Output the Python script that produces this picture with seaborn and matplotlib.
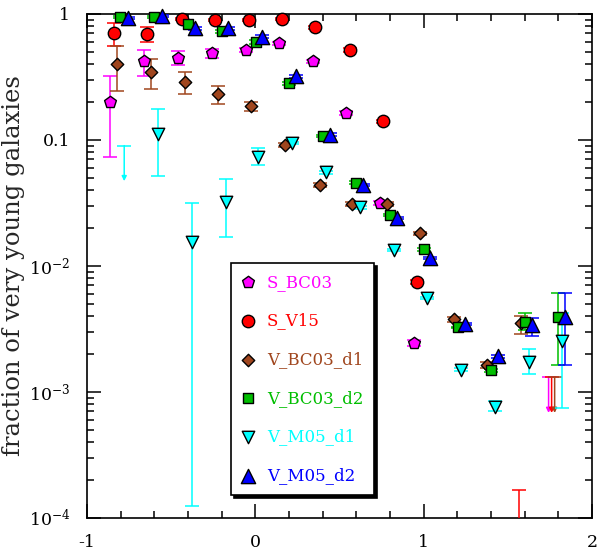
import numpy as np
import pandas as pd
import seaborn as sns
import matplotlib.pyplot as plt
from matplotlib.ticker import FixedLocator, MultipleLocator, FuncFormatter, LogLocator, NullFormatter

# series names, colours and markers (legend order = draw order)
names = ['S_BC03', 'S_V15', 'V_BC03_d1', 'V_BC03_d2', 'V_M05_d1', 'V_M05_d2']
colors = ['#ff00ff', '#ff0000', '#a0461e', '#00be00', '#00ffff', '#0000ff']
markers = ['p', 'o', 'D', 's', 'v', '^']
msizes = [80, 80, 40, 55, 80, 105]

# S_BC03
x_sbc = [-0.864, -0.66, -0.458, -0.26, -0.058, 0.14, 0.343, 0.541, 0.739, 0.941]
y_sbc = [0.198, 0.42, 0.45, 0.49, 0.52, 0.585, 0.42, 0.163, 0.0314, 0.00243]
lo_sbc = [0.073, 0.32, 0.39, 0.45, 0.50, 0.57, 0.41, 0.158, 0.0305, 0.0023]
hi_sbc = [0.32, 0.52, 0.51, 0.53, 0.54, 0.60, 0.43, 0.168, 0.0325, 0.0026]

# S_V15 (last point lies below the plotted range)
x_sv = [-0.84, -0.642, -0.438, -0.24, -0.039, 0.159, 0.357, 0.561, 0.759, 0.96, 1.564]
y_sv = [0.70, 0.69, 0.908, 0.896, 0.896, 0.908, 0.78, 0.52, 0.14, 0.00746, 5e-5]
lo_sv = [0.557, 0.60, 0.89, 0.88, 0.88, 0.89, 0.76, 0.50, 0.135, 0.0072, 3e-5]
hi_sv = [0.84, 0.78, 0.93, 0.91, 0.91, 0.93, 0.80, 0.54, 0.145, 0.0077, 1.66e-4]

# V_BC03_d1
x_vb1 = [-0.82, -0.62, -0.42, -0.22, -0.023, 0.179, 0.383, 0.577, 0.782, 0.98, 1.18, 1.376, 1.58]
y_vb1 = [0.40, 0.344, 0.289, 0.23, 0.184, 0.0912, 0.044, 0.031, 0.031, 0.0182, 0.00377, 0.00164, 0.00351]
lo_vb1 = [0.245, 0.253, 0.231, 0.193, 0.17, 0.088, 0.0425, 0.030, 0.030, 0.0177, 0.0036, 0.00155, 0.0029]
hi_vb1 = [0.557, 0.437, 0.347, 0.268, 0.20, 0.095, 0.0455, 0.032, 0.032, 0.0187, 0.0039, 0.00172, 0.0040]

# V_BC03_d2
x_vb2 = [-0.804, -0.60, -0.399, -0.197, 0.003, 0.201, 0.402, 0.6, 0.802, 1.0, 1.204, 1.402, 1.6, 1.797]
y_vb2 = [0.95, 0.95, 0.83, 0.73, 0.60, 0.282, 0.1076, 0.0458, 0.0254, 0.01356, 0.00326, 0.00148, 0.00361, 0.0039]
lo_vb2 = [0.93, 0.93, 0.81, 0.71, 0.58, 0.275, 0.105, 0.0448, 0.0248, 0.0132, 0.0032, 0.00144, 0.0031, 0.00164]
hi_vb2 = [0.97, 0.97, 0.85, 0.75, 0.62, 0.29, 0.110, 0.0468, 0.026, 0.0139, 0.0033, 0.00152, 0.0042, 0.0061]

# V_M05_d1
x_vm1 = [-0.58, -0.379, -0.177, 0.017, 0.22, 0.422, 0.624, 0.822, 1.022, 1.224, 1.421, 1.623, 1.821]
y_vm1 = [0.112, 0.0156, 0.032, 0.0737, 0.095, 0.0554, 0.0292, 0.0134, 0.0056, 0.0015, 0.000755, 0.00174, 0.00255]
lo_vm1 = [0.052, 1.25e-4, 0.0168, 0.063, 0.093, 0.054, 0.0285, 0.0131, 0.0055, 0.00146, 0.00070, 0.00139, 0.00075]
hi_vm1 = [0.176, 0.0316, 0.049, 0.086, 0.097, 0.0565, 0.030, 0.0137, 0.0057, 0.00154, 0.00084, 0.0022, 0.0042]

# V_M05_d2
x_vm2 = [-0.759, -0.557, -0.359, -0.161, 0.037, 0.24, 0.442, 0.64, 0.842, 1.04, 1.243, 1.441, 1.643, 1.841]
y_vm2 = [0.93, 0.96, 0.77, 0.77, 0.66, 0.32, 0.11, 0.044, 0.0239, 0.0115, 0.00347, 0.00191, 0.0034, 0.00396]
lo_vm2 = [0.91, 0.94, 0.75, 0.75, 0.64, 0.31, 0.107, 0.043, 0.0234, 0.0113, 0.0034, 0.00186, 0.00279, 0.00164]
hi_vm2 = [0.95, 0.98, 0.79, 0.79, 0.68, 0.33, 0.113, 0.045, 0.0244, 0.0117, 0.00355, 0.00196, 0.00385, 0.0061]

# upper limits: (series index, x, cap value, arrow end)
lim_series = [4, 0, 1, 2]
lim_x = [-0.779, 1.742, 1.760, 1.778]
lim_cap = [0.090, 1.3e-3, 1.3e-3, 1.3e-3]
lim_end = [0.047, 6.8e-4, 6.8e-4, 6.8e-4]

xs = [x_sbc, x_sv, x_vb1, x_vb2, x_vm1, x_vm2]
ys = [y_sbc, y_sv, y_vb1, y_vb2, y_vm1, y_vm2]
los = [lo_sbc, lo_sv, lo_vb1, lo_vb2, lo_vm1, lo_vm2]
his = [hi_sbc, hi_sv, hi_vb1, hi_vb2, hi_vm1, hi_vm2]

sns.set_theme(style='ticks')
plt.rcParams['font.family'] = ['DejaVu Serif']
plt.rcParams['mathtext.fontset'] = 'dejavuserif'

fig = plt.figure(figsize=(5.98, 5.55), dpi=100)
ax = fig.add_axes([0.1455, 0.067, 0.8445, 0.908])

for i, name in enumerate(names):
    x = np.array(xs[i]); y = np.array(ys[i])
    lo = np.array(los[i]); hi = np.array(his[i])
    ax.errorbar(x, y, yerr=[y - lo, hi - y], fmt='none', ecolor=colors[i],
                elinewidth=1.1, capsize=4.7, capthick=1.1, zorder=2 + i)
    df = pd.DataFrame({'x': x, 'y': y})
    df = df[df['y'] >= 1e-4]
    sns.scatterplot(data=df, x='x', y='y', marker=markers[i], color=colors[i],
                    s=msizes[i], edgecolor='black', linewidth=1.0, label=name,
                    ax=ax, zorder=10 + i, clip_on=False)

for k, i in enumerate(lim_series):
    ax.plot([lim_x[k]], [lim_cap[k]], marker='_', ms=9.4, mew=1.1, color=colors[i], zorder=3)
    ax.annotate('', xy=(lim_x[k], lim_end[k]), xytext=(lim_x[k], lim_cap[k]),
                arrowprops=dict(arrowstyle='-|>', color=colors[i], lw=1.1,
                                mutation_scale=7, shrinkA=0, shrinkB=0), zorder=3)

ax.set_yscale('log')
ax.set_xlim(-1, 2)
ax.set_ylim(1e-4, 1)
ax.xaxis.set_major_locator(MultipleLocator(1))
ax.xaxis.set_minor_locator(MultipleLocator(0.2))
ax.yaxis.set_major_locator(FixedLocator([1e-4, 1e-3, 1e-2, 0.1, 1]))
ax.yaxis.set_minor_locator(LogLocator(base=10, subs=np.arange(2, 10)))
ax.yaxis.set_minor_formatter(NullFormatter())


def ylab(v, pos):
    if v > 0.5:
        return '1'
    if v > 0.05:
        return '0.1'
    return '$10^{%d}$' % int(round(np.log10(v)))


ax.yaxis.set_major_formatter(FuncFormatter(ylab))
ax.xaxis.set_major_formatter(FuncFormatter(lambda v, p: '%d' % v))

ax.tick_params(which='both', direction='in', top=True, right=True, width=1.1, colors='black')
ax.tick_params(which='major', length=10, labelsize=12.5, pad=12)
ax.tick_params(which='minor', length=5)
for sp in ax.spines.values():
    sp.set_linewidth(1.2)
    sp.set_color('black')

ax.set_xlabel('')
ax.set_ylabel('fraction of very young galaxies', fontsize=17.5)
ax.yaxis.set_label_coords(-0.123, 0.5)

leg = ax.legend(loc='upper left', bbox_to_anchor=(0.285, 0.506), borderaxespad=0,
                frameon=True, fancybox=False, shadow={'color': 'black', 'alpha': 1},
                fontsize=12, labelspacing=1.3, handlelength=0.8, handletextpad=0.7,
                borderpad=0.65, scatterpoints=1)
leg.get_frame().set_edgecolor('black')
leg.get_frame().set_linewidth(1.2)
for t, c in zip(leg.get_texts(), colors):
    t.set_color(c)

fig.savefig('out.png', dpi=100)
